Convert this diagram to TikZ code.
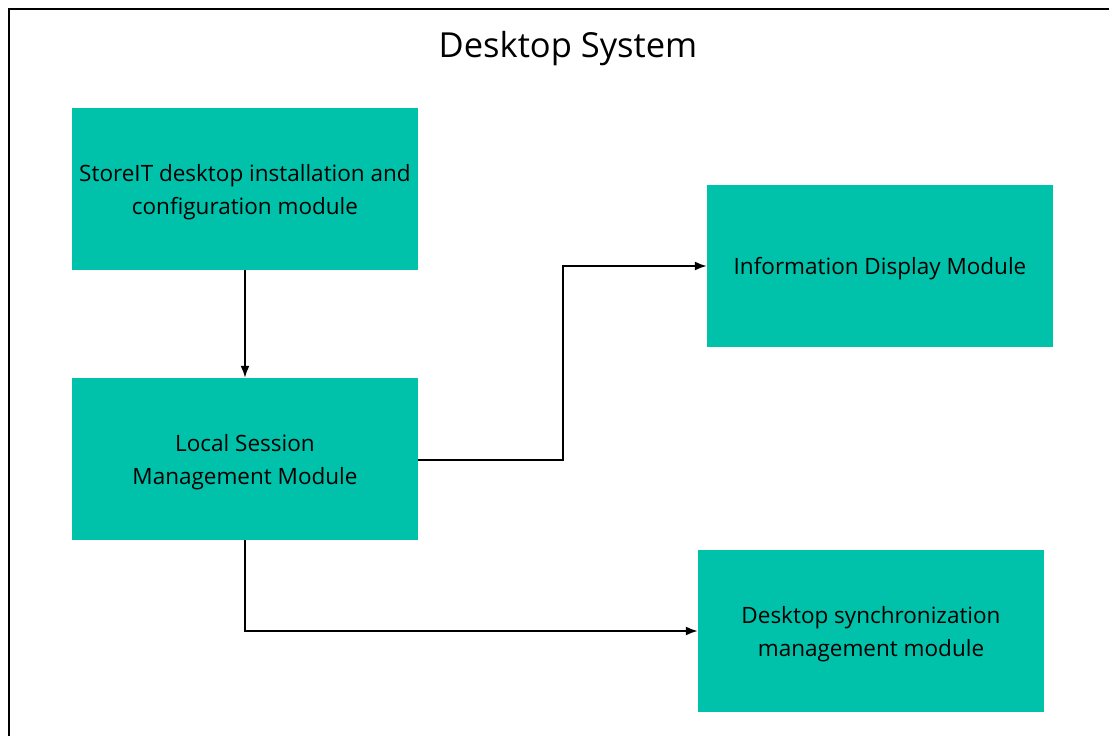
\documentclass[tikz,border=0pt]{standalone}
\usepackage{fontspec}
\setmainfont{Open Sans}
\usetikzlibrary{arrows.meta}
\definecolor{modteal}{HTML}{00C2AA}
\tikzset{
  module/.style={fill=modteal, draw=none, minimum width=346pt, minimum height=162pt,
    inner sep=0pt, align=center, font=\fontsize{22.5}{33}\selectfont},
  link/.style={draw=black, line width=1.8pt, -{Latex[length=12pt,width=9pt]}},
}
\begin{document}
\begin{tikzpicture}[x=1pt, y=-1pt]
  \useasboundingbox (0,0) rectangle (1109,736);
  \begin{scope}
    \clip (0,0) rectangle (1109,736);
    \draw[line width=2.4pt] (9,9) rectangle (1130,760);
  \end{scope}
  \node[font=\fontsize{34.5}{40}\selectfont] (title) at (568,49) {Desktop System};

  \node[module, text depth=0pt] (install) at (245,189) {};
  \node[font=\fontsize{22.5}{33}\selectfont, align=center] (installtext) at (245,192) {StoreIT desktop installation and\\configuration module};
  \node[module] (session) at (245,459) {};
  \node[font=\fontsize{22.5}{33}\selectfont, align=center] (sessiontext) at (245,462) {Local Session\\Management Module};
  \node[module] (display) at (880,266) {};
  \node[font=\fontsize{22.5}{33}\selectfont] (displaytext) at (880,269) {Information Display Module};
  \node[module] (sync) at (871,631) {};
  \node[font=\fontsize{22.5}{33}\selectfont, align=center] (synctext) at (871,634) {Desktop synchronization\\management module};

  \draw[link] (install.south) -- (session.north);
  \draw[link] (session.east |- 0,460) -- (563,460) |- (display.west);
  \draw[link] (session.south) |- (sync.west);
\end{tikzpicture}
\end{document}
